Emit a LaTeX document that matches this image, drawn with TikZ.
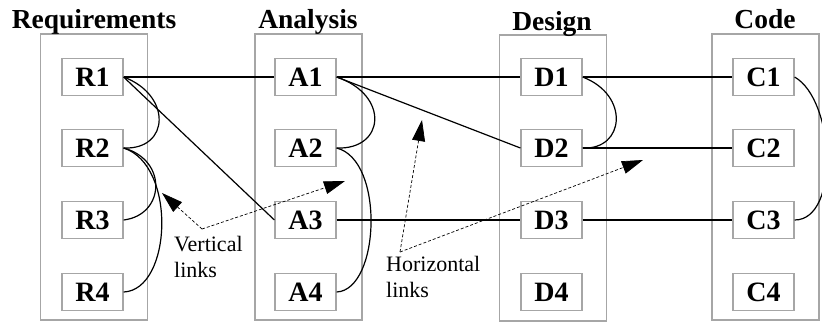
\documentclass[tikz,border=0pt]{standalone}
\usepackage{fontspec}
\setmainfont{Liberation Serif}
\usetikzlibrary{arrows.meta}

\begin{document}
\begin{tikzpicture}[x=1pt, y=-1pt,
    column/.style={draw=gray!70, line width=1.2pt, minimum width=107pt, minimum height=286pt},
    title/.style={font=\fontsize{27.5}{27.5}\selectfont\bfseries, anchor=base},
    item/.style={draw=gray!70, line width=1.2pt, fill=white, minimum width=61pt, minimum height=37pt,
        inner sep=0pt, font=\fontsize{28}{28}\selectfont\bfseries},
    link/.style={line width=1.2pt},
    note/.style={font=\fontsize{22}{26}\selectfont, align=left, anchor=north west, inner sep=0pt},
    pointer/.style={line width=0.7pt, densely dashed, -{Triangle[length=21pt,width=13pt]}}]
    \useasboundingbox (0,0) rectangle (822,322);
    %phases
    \node[column] (req) at (94,177) {};
    \node[column] (ana) at (308.5,177) {};
    \node[column] (des) at (553,178) {};
    \node[column] (cod) at (765.5,177) {};
    \node[title] (treq) at (94,28) {Requirements};
    \node[title] (tana) at (308,28) {Analysis};
    \node[title] (tdes) at (552,30) {Design};
    \node[title] (tcod) at (765,28) {Code};
    %artefacts
    \foreach \c/\x in {R/92.5, A/305.5, D/551.5, C/763.5}
        \foreach \i/\y in {1/77, 2/148, 3/220, 4/292}
            \node[item] (\c\i) at (\x,\y) {\c\i};
    %horizontal links
    \draw[link] (R1.east) -- (A1.west);
    \draw[link] (R1.east) -- (A3.west);
    \draw[link] (A1.east) -- (D1.west);
    \draw[link] (A1.east) -- (D2.west);
    \draw[link] (A3.east) -- (D3.west);
    \draw[link] (D1.east) -- (C1.west);
    \draw[link] (D2.east) -- (C2.west);
    \draw[link] (D3.east) -- (C3.west);
    %vertical links
    \draw[link] (R1.east) .. controls (172,95) and (170,150) .. (R2.east);
    \draw[link] (R2.east) .. controls (168,160) and (165,215) .. (R3.east);
    \draw[link] (R2.east) .. controls (177,165) and (172,290) .. (R4.east);
    \draw[link] (A1.east) .. controls (390,95) and (385,150) .. (A2.east);
    \draw[link] (A2.east) .. controls (385,160) and (380,290) .. (A4.east);
    \draw[link] (D1.east) .. controls (630,95) and (625,150) .. (D2.east);
    \draw[link] (C1.east) .. controls (835,100) and (840,220) .. (C3.east);
    %notes
    \node[note] (vnote) at (174,236) {Vertical\\links};
    \node[note] (hnote) at (386,256) {Horizontal\\links};
    \coordinate (vtip) at (202,229);
    \coordinate (htip) at (400,252);
    \draw[pointer] (vtip) -- (162,193);
    \draw[pointer] (vtip) -- (345,181);
    \draw[pointer] (htip) -- (422,120);
    \draw[pointer] (htip) -- (643,160);
\end{tikzpicture}
\end{document}
